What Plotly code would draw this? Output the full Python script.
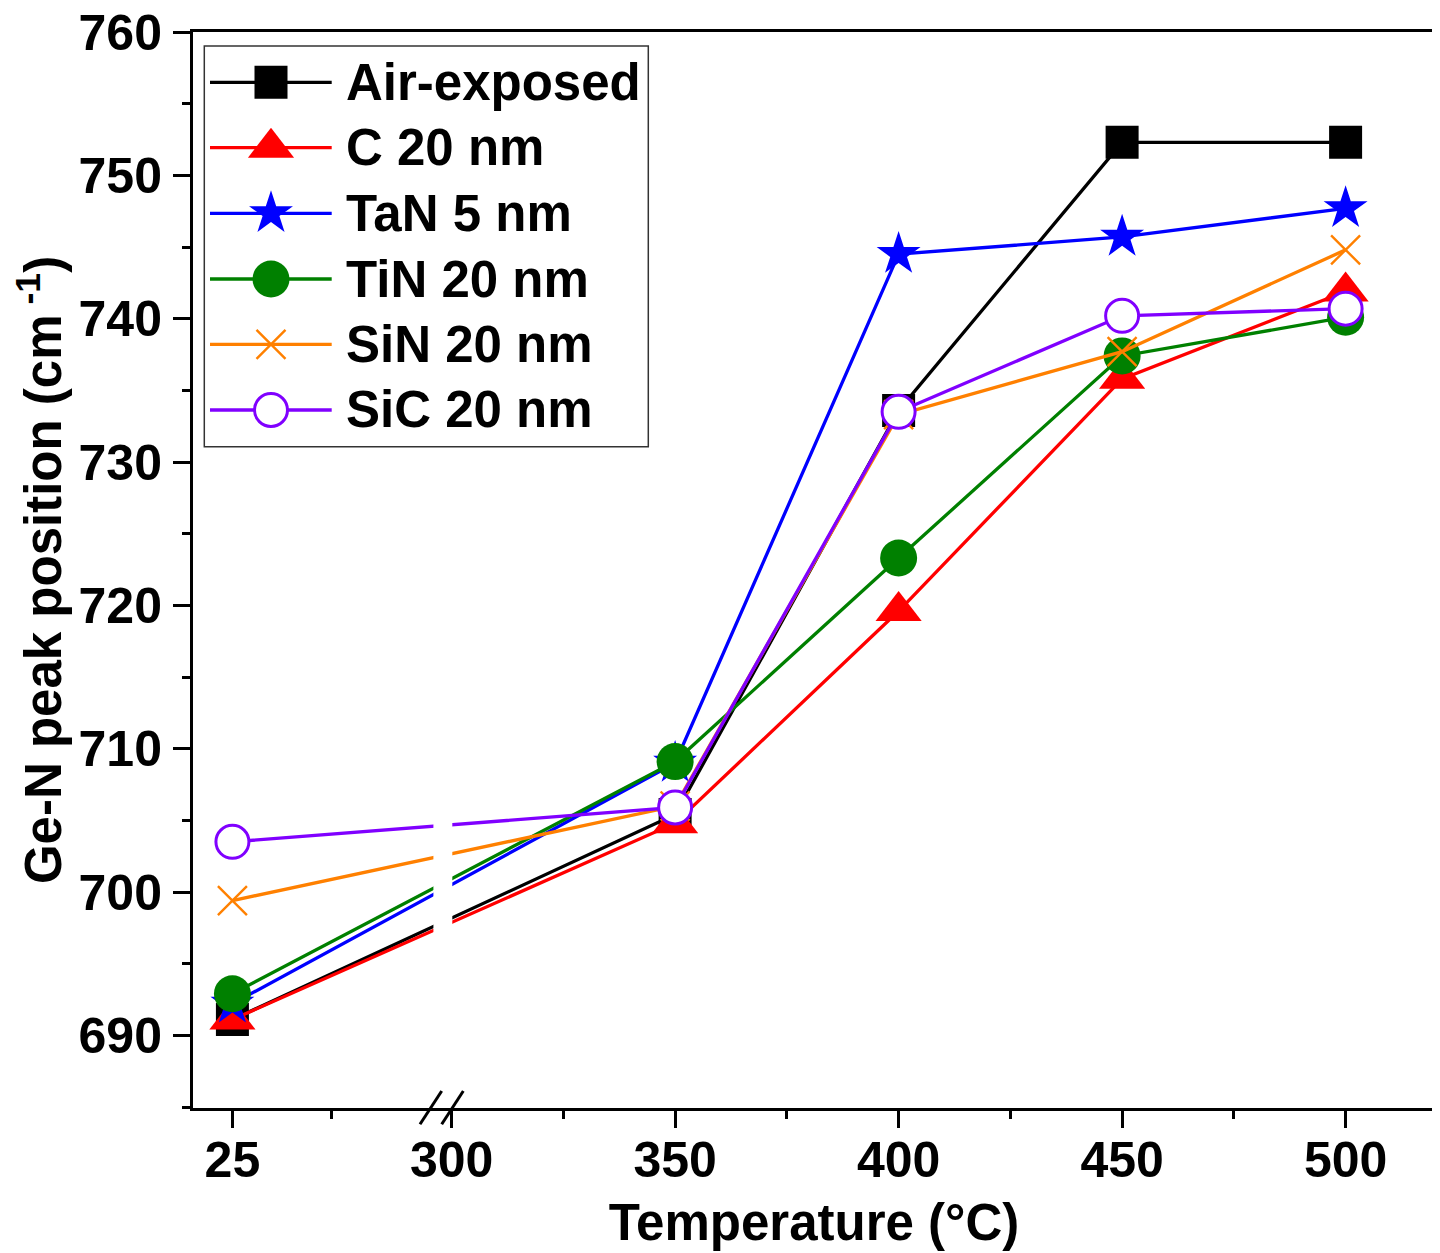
import plotly.graph_objects as go

# ---------------- data ----------------
temps = [25, 350, 400, 450, 500]
series_names = ["Air-exposed", "C 20 nm", "TaN 5 nm", "TiN 20 nm", "SiN 20 nm", "SiC 20 nm"]
air_exposed = [691.1, 705.4, 733.6, 752.3, 752.3]
c_20nm = [691.1, 704.8, 719.6, 735.8, 741.9]
tan_5nm = [692.2, 709.0, 744.5, 745.7, 747.7]
tin_20nm = [692.9, 709.1, 723.3, 737.4, 740.1]
sin_20nm = [699.4, 706.0, 733.3, 737.7, 744.8]
sic_20nm = [703.5, 705.9, 733.5, 740.2, 740.7]

x_tick_temps = [25, 300, 350, 400, 450, 500]
x_tick_labels = ["25", "300", "350", "400", "450", "500"]
x_minor_temps = [50, 325, 375, 425, 475]
y_tick_vals = [690, 700, 710, 720, 730, 740, 750, 760]

# ---------------- styles ----------------
colors = ["#000000", "#FF0000", "#0000FF", "#008000", "#FF8000", "#8000FF"]
symbols = ["square", "triangle-up", "star", "circle", "x-thin-open", "circle"]
fill_colors = ["#000000", "#FF0000", "#0000FF", "#008000", "#FF8000", "#FFFFFF"]
marker_sizes = [33, 40, 33, 37, 29, 33]
marker_line_w = [0, 0, 0, 0, 2.4, 3]

FONT = "Liberation Sans, Arial, Helvetica, sans-serif"

# ---------------- broken x axis scale ----------------
BREAK_T = 300          # right segment starts here (linear, true temps)
LEFT_ANCHOR = 250.96   # axis position of 25 °C in left segment
LEFT_SCALE = 0.886     # axis units per °C in the left segment


def axis_pos(t):
    if t >= BREAK_T:
        return t
    return LEFT_ANCHOR + (t - 25) * LEFT_SCALE


X_RANGE = [242.14, 520.0]
Y_RANGE = [684.93, 760.0]

# page has an 8px body margin: size the figure to fit inside the window
OFF = 8
W, H = 1440 - OFF, 1253 - OFF
PL, PT, PW, PH = 193 - OFF, 32 - OFF, 1242, 1076


def pxx(px):
    return (px - OFF - PL) / PW


def pxy(py):
    return (PT + PH - (py - OFF)) / PH


all_series = [air_exposed, c_20nm, tan_5nm, tin_20nm, sin_20nm, sic_20nm]

fig = go.Figure()
xpos = [axis_pos(t) for t in temps]
for name, vals, col, sym, fc, ms, mlw in zip(series_names, all_series, colors, symbols,
                                               fill_colors, marker_sizes, marker_line_w):
    fig.add_trace(go.Scatter(
        x=xpos, y=vals, mode="lines+markers", name=name, showlegend=False,
        line=dict(color=col, width=3.3),
        marker=dict(symbol=sym, size=ms, color=fc,
                    line=dict(color=col, width=mlw)),
        cliponaxis=False,
    ))

# ---------------- manual legend (large samples) ----------------
row_px = [82.3, 147.7, 213.3, 279.0, 344.3, 410.0]
for name, col, sym, fc, ms, mlw, ry in zip(series_names, colors, symbols, fill_colors,
                                           marker_sizes, marker_line_w, row_px):
    fig.add_trace(go.Scatter(
        x=[pxx(210), pxx(331.7)], y=[pxy(ry), pxy(ry)], mode="lines",
        line=dict(color=col, width=3.3), showlegend=False, hoverinfo="skip",
        xaxis="x2", yaxis="y2"))
    fig.add_trace(go.Scatter(
        x=[pxx(271)], y=[pxy(ry)], mode="markers",
        marker=dict(symbol=sym, size=ms, color=fc, line=dict(color=col, width=mlw)),
        showlegend=False, hoverinfo="skip", xaxis="x2", yaxis="y2"))
    fig.add_annotation(
        x=pxx(344), y=pxy(ry), xref="paper", yref="paper", text=name,
        showarrow=False, xanchor="left", yanchor="middle",
        font=dict(family=FONT, size=51, color="black", weight="bold"))

shapes = [
    # legend frame
    dict(type="rect", xref="paper", yref="paper", x0=pxx(204.3), x1=pxx(648.3),
         y0=pxy(446.7), y1=pxy(46), line=dict(color="#333333", width=1.5), layer="above"),
    # white gap in the lines at the axis break
    dict(type="rect", xref="paper", yref="y", x0=pxx(433.4), x1=pxx(452.3),
         y0=694.5, y1=708.5, fillcolor="white", line=dict(width=0), layer="above"),
    # break marks on the x axis
    dict(type="line", xref="paper", yref="paper", x0=pxx(420), y0=pxy(1124.3),
         x1=pxx(441.7), y1=pxy(1091), line=dict(color="black", width=3), layer="above"),
    dict(type="line", xref="paper", yref="paper", x0=pxx(441.7), y0=pxy(1124.3),
         x1=pxx(463.3), y1=pxy(1091), line=dict(color="black", width=3), layer="above"),
]

axis_common = dict(
    automargin=False,
    showgrid=False, zeroline=False, showline=True, linecolor="black", linewidth=3,
    mirror=True, ticks="outside", ticklen=17, tickwidth=3, tickcolor="black",
    ticklabeloverflow="allow",
    tickfont=dict(family=FONT, size=50, color="black", weight="bold"),
)

fig.update_layout(
    width=W, height=H,
    margin=dict(l=PL, r=W - PL - PW, t=PT, b=H - PT - PH, autoexpand=False),
    paper_bgcolor="white", plot_bgcolor="white",
    showlegend=False,
    shapes=shapes,
    xaxis=dict(
        **axis_common,
        range=X_RANGE,
        tickmode="array",
        tickvals=[axis_pos(t) for t in x_tick_temps],
        ticktext=x_tick_labels,
        ticklabelstandoff=-11,
        minor=dict(tickmode="array", tickvals=[axis_pos(t) for t in x_minor_temps],
                   ticks="outside", ticklen=8, tickwidth=3, tickcolor="black"),
        title=dict(text="Temperature (°C)", standoff=18,
                   font=dict(family=FONT, size=51, color="black", weight="bold")),
    ),
    yaxis=dict(
        **axis_common,
        range=Y_RANGE,
        tickmode="array",
        tickvals=y_tick_vals,
        ticktext=[str(v) for v in y_tick_vals],
        minor=dict(tickmode="linear", tick0=685, dtick=5,
                   ticks="outside", ticklen=8, tickwidth=3, tickcolor="black"),
        ticklabelstandoff=1,
        title=dict(text="Ge-N peak position (cm<sup> -1</sup>)", standoff=12,
                   font=dict(family=FONT, size=51, color="black", weight="bold")),
    ),
    xaxis2=dict(overlaying="x", anchor="y2", range=[0, 1], visible=False),
    yaxis2=dict(overlaying="y", anchor="x2", range=[0, 1], visible=False),
)

fig.write_html("out.html")
